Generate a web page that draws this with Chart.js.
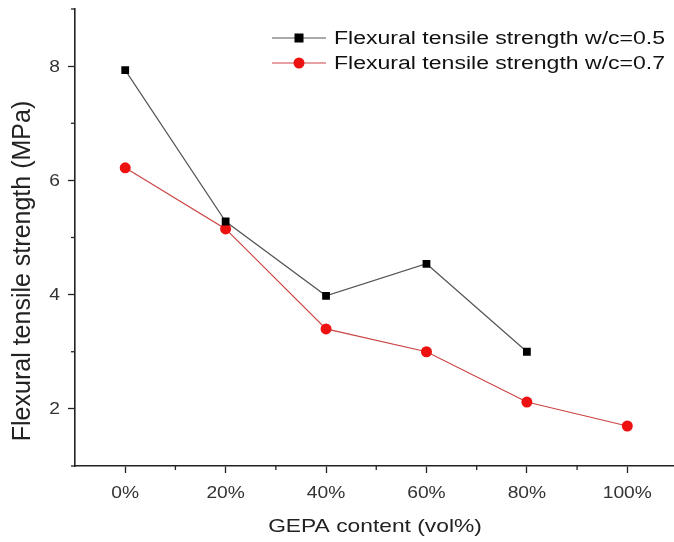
<!DOCTYPE html>
<html>
<head>
<meta charset="utf-8">
<script src="https://cdn.jsdelivr.net/npm/chart.js@4.4.1/dist/chart.umd.min.js"></script>
<style>
  html, body { margin: 0; padding: 0; background: #fff; overflow: hidden; }
  #wrap { width: 674px; height: 542px; overflow: hidden; }
</style>
</head>
<body>
<div id="wrap"><canvas id="strength_chart" width="680" height="542"></canvas></div>
<script>
// GEPA content categories and strength values (MPa)
var contentLabels = ['0%', '20%', '40%', '60%', '80%', '100%'];
var strengthWc05 = [7.93, 5.28, 3.98, 4.54, 3.0];
var strengthWc07 = [6.22, 5.15, 3.40, 3.0, 2.12, 1.70];
var yTickLabels = [2, 4, 6, 8];
var xTitle = 'GEPA content (vol%)';
var yTitle = 'Flexural tensile strength (MPa)';

var FONT = '"Liberation Sans", Arial, sans-serif';

function toPoints(values) {
    return values.map(function (v, i) { return {x: i, y: v}; });
}

// text drawn a bit wide, like the original figure
function wideText(ctx, text, x, y, sx, align) {
    ctx.save();
    ctx.translate(x, y);
    ctx.scale(sx, 1);
    ctx.textAlign = align;
    ctx.fillText(text, 0, 0);
    ctx.restore();
}

// minor ticks, tick labels, titles and line-marker-line legend
var extrasPlugin = {
    id: 'extras',
    afterDraw: function (chart) {
        var ctx = chart.ctx;
        var xs = chart.scales.x, ys = chart.scales.y;
        var area = chart.chartArea;
        ctx.save();
        ctx.strokeStyle = '#222';
        ctx.lineWidth = 1.3;
        for (var i = 0; i < contentLabels.length; i++) {
            var px = xs.getPixelForValue(i + 0.5);
            if (px > area.right) break;
            ctx.beginPath();
            ctx.moveTo(px, area.bottom);
            ctx.lineTo(px, area.bottom + 4);
            ctx.stroke();
        }
        for (var v = 1; v <= 9; v += 2) {
            var py = ys.getPixelForValue(v);
            ctx.beginPath();
            ctx.moveTo(area.left - 4, py);
            ctx.lineTo(area.left, py);
            ctx.stroke();
        }

        // tick labels
        ctx.fillStyle = '#333';
        ctx.textBaseline = 'middle';
        ctx.font = '16px ' + FONT;
        contentLabels.forEach(function (l, i) {
            wideText(ctx, l, xs.getPixelForValue(i), 494, 1.2, 'center');
        });
        yTickLabels.forEach(function (v) {
            wideText(ctx, String(v), area.left - 15, ys.getPixelForValue(v) + 1, 1.2, 'right');
        });

        // axis titles
        ctx.fillStyle = '#222';
        ctx.font = '19px ' + FONT;
        wideText(ctx, xTitle, 375, 527, 1.2, 'center');
        ctx.save();
        ctx.translate(23, 271);
        ctx.rotate(-Math.PI / 2);
        ctx.font = '25px ' + FONT;
        ctx.textAlign = 'center';
        ctx.fillText(yTitle, 0, 0);
        ctx.restore();

        // legend
        ctx.font = '18px ' + FONT;
        chart.data.datasets.forEach(function (ds, k) {
            var y = 38 + k * 25;
            ctx.strokeStyle = ds.borderColor;
            ctx.lineWidth = 1;
            ctx.beginPath();
            ctx.moveTo(272, y);
            ctx.lineTo(326, y);
            ctx.stroke();
            ctx.fillStyle = ds.pointBackgroundColor;
            if (ds.pointStyle === 'rect') {
                ctx.fillRect(299 - 4.5, y - 4.5, 9, 9);
            } else {
                ctx.beginPath();
                ctx.arc(299, y, 5.5, 0, Math.PI * 2);
                ctx.fill();
            }
            ctx.fillStyle = '#111';
            wideText(ctx, ds.label, 334, y + 1, 1.28, 'left');
        });
        ctx.restore();
    }
};

new Chart(document.getElementById('strength_chart').getContext('2d'), {
    type: 'line',
    data: {
        datasets: [{
            label: 'Flexural tensile strength w/c=0.5',
            data: toPoints(strengthWc05),
            borderColor: '#555',
            borderWidth: 1.2,
            pointStyle: 'rect',
            pointRadius: 5.5,
            pointBackgroundColor: '#000',
            pointBorderWidth: 0,
            tension: 0
        }, {
            label: 'Flexural tensile strength w/c=0.7',
            data: toPoints(strengthWc07),
            borderColor: '#c44',
            borderWidth: 1.2,
            pointStyle: 'circle',
            pointRadius: 5.5,
            pointBackgroundColor: '#ee1111',
            pointBorderWidth: 0,
            tension: 0
        }]
    },
    options: {
        responsive: false,
        animation: false,
        layout: {padding: {top: 9, right: 0, left: 0, bottom: 0}},
        plugins: {
            legend: {display: false},
            tooltip: {enabled: false}
        },
        scales: {
            x: {
                type: 'linear',
                min: -0.5,
                max: 5.47,
                afterBuildTicks: function (scale) {
                    scale.ticks = contentLabels.map(function (l, i) { return {value: i}; });
                },
                afterFit: function (scale) { scale.height = 76; },
                ticks: {display: false},
                grid: {drawOnChartArea: false, drawTicks: true, tickLength: 7, tickColor: '#222', tickWidth: 1.3},
                border: {display: true, color: '#222', width: 1.6}
            },
            y: {
                min: 1,
                max: 9,
                afterBuildTicks: function (scale) {
                    scale.ticks = yTickLabels.map(function (v) { return {value: v}; });
                },
                afterFit: function (scale) { scale.width = 75; },
                ticks: {display: false},
                grid: {drawOnChartArea: false, drawTicks: true, tickLength: 7, tickColor: '#222', tickWidth: 1.3},
                border: {display: true, color: '#222', width: 1.6}
            }
        }
    },
    plugins: [extrasPlugin]
});
</script>
</body>
</html>
